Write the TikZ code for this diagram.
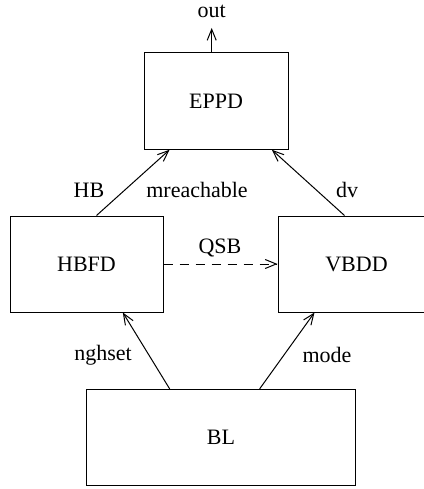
\documentclass[tikz,border=0pt]{standalone}
\usepackage{fontspec}
\setmainfont{Liberation Serif}
\usetikzlibrary{arrows.meta}

\begin{document}
\begin{tikzpicture}[x=1pt,y=-1pt,line width=1pt,
  block/.style={draw=black,minimum height=96pt},
  arr/.style={-{Straight Barb[length=11pt,width=9pt,line width=1pt]}},
  lbl/.style={font=\fontsize{22}{26}\selectfont}]
  \tikzstyle{every node}+=[inner sep=0pt,font=\fontsize{22}{26}\selectfont]
  \useasboundingbox (0,0) rectangle (423,489);
  \node [block,minimum width=144pt,minimum height=96.6pt] (eppd) at (216,101) {EPPD};
  \node [block,minimum width=153pt] (hbfd) at (86.5,264) {HBFD};
  \node [block,minimum width=157pt] (vbdd) at (356.5,264) {VBDD};
  \node [block,minimum width=268.3pt,minimum height=95.7pt] (bl) at (221,437.2) {BL};
  \coordinate (outtip) at (211.7,28);
  \node (out) at (211.7,11) {out};
  \draw [arr] ([xshift=-4.3pt]eppd.north) -- (outtip);
  \draw [arr] ([xshift=87pt]hbfd.north west) -- ([xshift=26pt]eppd.south west);
  \node (hb) at (89,190) {HB};
  \node (mreach) at (197,190) {mreachable};
  \draw [arr] ([xshift=67pt]vbdd.north west) -- ([xshift=-16.6pt]eppd.south east);
  \node (dv) at (347,190) {dv};
  \draw [arr,dash pattern=on 9pt off 7pt] (hbfd.east) -- (vbdd.west);
  \node (qsb) at (220,248) {QSB};
  \draw [arr] ([xshift=83.3pt]bl.north west) -- ([xshift=113.3pt]hbfd.south west);
  \node (nghset) at (103,355) {nghset};
  \draw [arr] ([xshift=173.3pt]bl.north west) -- ([xshift=37pt]vbdd.south west);
  \node (mode) at (327,355) {mode};
\end{tikzpicture}
\end{document}
